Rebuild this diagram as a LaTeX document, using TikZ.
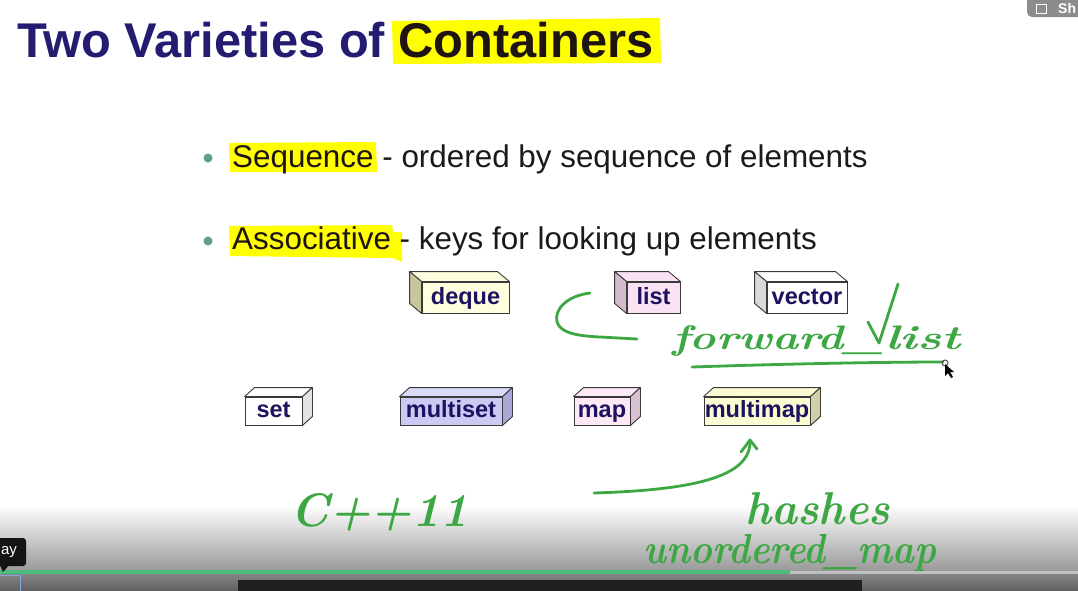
\documentclass[tikz,border=0pt]{standalone}
\usepackage{fontspec}
\newfontfamily\arial{Liberation Sans}
\usetikzlibrary{calc}
\definecolor{navy}{HTML}{231C70}
\definecolor{ink}{HTML}{1E1414}
\definecolor{body}{HTML}{1A1A1A}
\definecolor{hl}{HTML}{FFFF00}
\definecolor{hgreen}{HTML}{3DA843}
\definecolor{dotc}{HTML}{5E9E8E}
\definecolor{edge}{HTML}{3A3A3A}
\definecolor{boxtext}{HTML}{1C1260}
\definecolor{progc}{HTML}{4DBD7E}
\definecolor{dequef}{HTML}{FFFFDF}
\definecolor{deques}{HTML}{C9C69E}
\definecolor{listf}{HTML}{F9E3F3}
\definecolor{lists}{HTML}{D2BCCB}
\definecolor{vecs}{HTML}{D9D9D9}
\definecolor{setss}{HTML}{E2E2E2}
\definecolor{msetf}{HTML}{CACAF2}
\definecolor{msett}{HTML}{D9D9F8}
\definecolor{msets}{HTML}{A9A9D9}
\definecolor{mapf}{HTML}{FDE9F6}
\definecolor{maps}{HTML}{D9C3D2}
\definecolor{mmapf}{HTML}{FCFCD3}
\definecolor{mmaps}{HTML}{D2D0A8}
\newcommand\cubeleft[3]{%
  \filldraw[face, fill=#2] (#1.north west) -- ++(-12,-10) -- ([shift={(-12,-10)}]#1.north east) -- (#1.north east) -- cycle;
  \filldraw[face, fill=#3] (#1.north west) -- ++(-12,-10) -- ([shift={(-12,-10)}]#1.south west) -- (#1.south west) -- cycle;}
\newcommand\cuberight[3]{%
  \filldraw[face, fill=#2] (#1.north west) -- ++(10,-9) -- ([shift={(10,-9)}]#1.north east) -- (#1.north east) -- cycle;
  \filldraw[face, fill=#3] (#1.north east) -- ++(10,-9) -- ([shift={(10,-9)}]#1.south east) -- (#1.south east) -- cycle;}
\begin{document}
\begin{tikzpicture}[x=1pt,y=-1pt,
  boxnode/.style={draw=edge, line width=0.9pt, inner sep=0pt, text height=17pt, text depth=4pt, text=boxtext, font=\arial\bfseries\fontsize{23.5}{23.5}\selectfont},
  face/.style={draw=edge, line width=0.9pt, line join=round},
  hand/.style={draw=hgreen, line width=2.8pt, line cap=round, line join=round},
  handtext/.style={text=hgreen, font=\bfseries\itshape\fontsize{#1}{#1}\selectfont, inner sep=0pt},
]
\useasboundingbox (0,0) rectangle (1078,590);
\clip (0,0) rectangle (1078,590);
\fill[white] (0,0) rectangle (1078,590);

% highlights
\fill[hl] (392,21) -- (660,18) -- (661,63) -- (393,64) -- cycle;
\fill[hl] (229,143) -- (376,142) -- (377,172) -- (230,172) -- cycle;
\fill[hl] (229,226) -- (392,225) -- (393,232) -- (402,232) -- (402,262) -- (393,258) -- (230,256) -- cycle;

% title
\node[anchor=base west, inner sep=0, text=navy, font=\arial\bfseries\fontsize{48.8}{48.8}\selectfont] (title) at (17,57) {Two Varieties of \textcolor{ink}{Containers}};

% bullets
\fill[dotc] (208,158) circle (4.5);
\fill[dotc] (208,241) circle (4.5);
\node[anchor=base west, inner sep=0, text=body, font=\arial\fontsize{31.4}{31.4}\selectfont] (seq) at (232,167) {\textcolor{ink}{Sequence} - ordered by sequence of elements};
\node[anchor=base west, inner sep=0, text=body, font=\arial\fontsize{31.4}{31.4}\selectfont] (assoc) at (232,249) {\textcolor{ink}{Associative} - keys for looking up elements};

% row 1 boxes
\node[boxnode, fill=dequef, minimum width=87, minimum height=31] (deque) at (465.5,297.5) {deque};
\cubeleft{deque}{dequef}{deques}
\node[boxnode, fill=listf, minimum width=53, minimum height=31] (list) at (653.5,297.5) {list};
\cubeleft{list}{listf}{lists}
\node[boxnode, fill=white, minimum width=80, minimum height=31] (vector) at (807,297.5) {vector};
\cubeleft{vector}{white}{vecs}

% row 2 boxes
\node[boxnode, fill=white, minimum width=57, minimum height=28] (set) at (273.5,411) {set};
\cuberight{set}{white}{setss}
\node[boxnode, fill=msetf, minimum width=102, minimum height=28] (multiset) at (451,411) {multiset};
\cuberight{multiset}{msett}{msets}
\node[boxnode, fill=mapf, minimum width=56, minimum height=28] (map) at (602,411) {map};
\cuberight{map}{mapf}{maps}
\node[boxnode, fill=mmapf, minimum width=106, minimum height=28] (multimap) at (757,411) {multimap};
\cuberight{multimap}{mmapf}{mmaps}

% video overlay background
\shade[top color=white, bottom color=black!40] (0,505) rectangle (1078,571);
\shade[top color=black!45, bottom color=black!62] (0,571) rectangle (1078,590);
\fill[progc] (0,570) rectangle (790,574);
\fill[black!25] (790,571) rectangle (1078,574);

% handwriting
\draw[hand] (590,293) .. controls (566,296) and (554,310) .. (557,322) .. controls (560,333) and (578,336) .. (600,337) -- (637,339);
\node[handtext=34, anchor=base west] (fw) at (672,349) {\scalebox{1.3}[1]{forward\_}};
\node[handtext=34, anchor=base west] (ls) at (885,349) {\scalebox{1.45}[1]{list}};
\draw[hand] (868,322) -- (879,343) -- (898,284);
\draw[hand] (692,367) .. controls (780,364) and (880,362) .. (943,362);
\draw[black!70, line width=1pt] (945,363) circle (3);
\fill[black] (945,364) -- (945,376) -- (948,373) -- (951,378) -- (953,377) -- (950,372) -- (954,372) -- cycle;
\node[handtext=47, anchor=base west] (cpp) at (290,526) {C++11};
\coordinate (arrtail) at (594,493);
\coordinate (arrtip) at (750,440);
\draw[hand] (arrtail) .. controls (690,490) and (752,478) .. (arrtip);
\draw[hand] (741,452) -- (arrtip) -- (757,449);
\node[handtext=46, anchor=base west] (hash) at (745,524) {\scalebox{0.96}[1]{hashes}};
\node[handtext=42, anchor=base west] (umap) at (643,563) {\scalebox{0.88}[1]{unordered\_map}};

% player chrome
\fill[black!88] (238,580) rectangle (862,592);
\draw[cyan!50!blue!50, line width=1pt] (-2,575) rectangle (20,592);
\fill[black!92, rounded corners=3] (-6,538) rectangle (26,566);
\fill[black!92] (0,565) -- (9,565) -- (3,572) -- cycle;
\node[text=white, font=\arial\fontsize{15}{15}\selectfont, inner sep=0] (tip) at (9,552) {ay};
\fill[black!45, rounded corners=5] (1027,-6) rectangle (1090,17);
\draw[white, line width=1pt] (1036,4) rectangle (1046,13);
\node[text=white, font=\arial\bfseries\fontsize{14}{14}\selectfont, anchor=base west, inner sep=0] (share) at (1058,13) {Sh};
\end{tikzpicture}
\end{document}
